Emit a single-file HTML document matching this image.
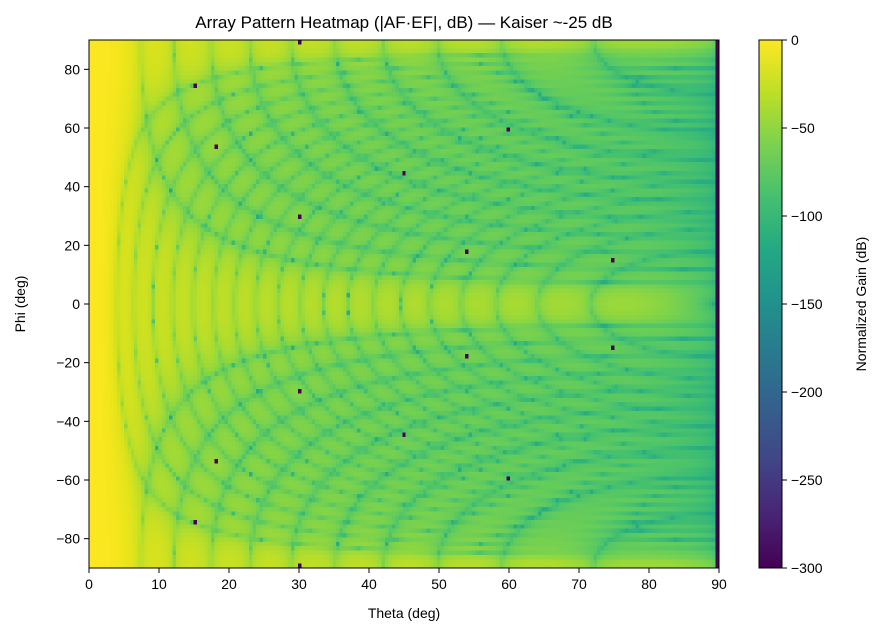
<!DOCTYPE html>
<html><head><meta charset="utf-8"><style>
body{margin:0;background:#fff;width:885px;height:637px;overflow:hidden;font-family:"Liberation Sans","DejaVu Sans",sans-serif;}
#wrap{position:relative;width:885px;height:637px;}
canvas#hm{position:absolute;left:89px;top:40px;width:630px;height:528px;image-rendering:pixelated;}
</style></head><body><div id="wrap">
<canvas id="hm" width="181" height="121"></canvas>
<svg width="885" height="637" style="position:absolute;left:0;top:0">
<defs><linearGradient id="vg" x1="0" y1="1" x2="0" y2="0">
<stop offset="0" stop-color="#440154"/><stop offset="0.1" stop-color="#482475"/><stop offset="0.2" stop-color="#414487"/><stop offset="0.3" stop-color="#355f8d"/><stop offset="0.4" stop-color="#2a788e"/><stop offset="0.5" stop-color="#21918c"/><stop offset="0.6" stop-color="#22a884"/><stop offset="0.7" stop-color="#44bf70"/><stop offset="0.8" stop-color="#7ad151"/><stop offset="0.9" stop-color="#bddf26"/><stop offset="1" stop-color="#fde725"/></linearGradient></defs>
<rect x="89" y="40" width="630" height="528" fill="none" stroke="#000" stroke-width="1"/>
<rect x="759" y="40" width="23" height="528" fill="url(#vg)" stroke="#000" stroke-width="1"/>
<g stroke="#000" stroke-width="1" id="ticks"></g>
<g font-size="14" font-family="Liberation Sans, DejaVu Sans, sans-serif" id="labels"></g>
<text x="404" y="28" font-size="17" text-anchor="middle" font-family="Liberation Sans, DejaVu Sans, sans-serif">Array Pattern Heatmap (|AF·EF|, dB) — Kaiser ~-25 dB</text>
<text x="404" y="618" font-size="14" text-anchor="middle" font-family="Liberation Sans, DejaVu Sans, sans-serif">Theta (deg)</text>
<text x="25" y="304" font-size="14" text-anchor="middle" transform="rotate(-90 25 304)" font-family="Liberation Sans, DejaVu Sans, sans-serif">Phi (deg)</text>
<text x="866" y="304" font-size="14" text-anchor="middle" transform="rotate(-90 866 304)" font-family="Liberation Sans, DejaVu Sans, sans-serif">Normalized Gain (dB)</text>
</svg>
<script>
(function(){
var NS="http://www.w3.org/2000/svg",tk=document.getElementById('ticks'),lb=document.getElementById('labels');
function line(x1,y1,x2,y2){var l=document.createElementNS(NS,'line');l.setAttribute('x1',x1);l.setAttribute('y1',y1);l.setAttribute('x2',x2);l.setAttribute('y2',y2);tk.appendChild(l);}
function txt(x,y,s,a){var t=document.createElementNS(NS,'text');t.setAttribute('x',x);t.setAttribute('y',y);t.setAttribute('text-anchor',a);t.textContent=s;lb.appendChild(t);}
for(var th=0;th<=90;th+=10){var x=89+7*th;line(x,568,x,573);txt(x,589,th,'middle');}
for(var p=-80;p<=80;p+=20){var y=304-p*528/180;line(84,y,89,y);txt(80,y+5,(p<0?'\u2212'+(-p):p),'end');}
for(var d=0;d>=-300;d-=50){var y=40+(-d)/300*528;line(782,y,787,y);txt(791,y+5,(d<0?'\u2212'+(-d):d),'start');}
function I0(x){var s=1,t=1;for(var k=1;k<40;k++){t*=(x/(2*k))*(x/(2*k));s+=t;}return s;}
function kaiser(N,b){var w=[];for(var n=0;n<N;n++){var r=2*n/(N-1)-1;w.push(I0(b*Math.sqrt(1-r*r))/I0(b));}return w;}
function af(w,u,d){var N=w.length,re=0,s=0;for(var n=0;n<N;n++){var m=n-(N-1)/2;re+=w[n]*Math.cos(2*Math.PI*d*m*u);s+=w[n];}return Math.abs(re)/s;}
var wx=kaiser(40,2.5),wy=kaiser(21,2.5);
var c0=[0.2777273272234177,0.005407344544966578,0.3340998053353061],c1=[0.1050930431085774,1.404613529898575,1.384590162594685],c2=[-0.3308618287255563,0.214847559468213,0.09509516302823659],c3=[-4.634230498983486,-5.799100973351585,-19.33244095627987],c4=[6.228269936347081,14.17993336680509,56.69055260068105],c5=[4.776384997670288,-13.74514537774601,-65.35303263337234],c6=[-5.435455855934631,4.645852612178535,26.3124352495832];
function vir(t){var o=[];for(var i=0;i<3;i++){var v=c0[i]+t*(c1[i]+t*(c2[i]+t*(c3[i]+t*(c4[i]+t*(c5[i]+t*c6[i])))));o.push(Math.max(0,Math.min(255,Math.round(v*255))));}return o;}
var cv=document.getElementById('hm'),ctx=cv.getContext('2d'),img=ctx.createImageData(181,121);
var dark={};[[30,90],[15,75],[18,54],[30,30],[45,45],[54,18],[60,60],[75,15]].forEach(function(a){dark[a[0]+','+a[1]]=1;dark[a[0]+','+(-a[1])]=1;});
for(var j=0;j<121;j++){var ph=90-j*1.5;var pr=ph*Math.PI/180;
 for(var i=0;i<181;i++){var th=i*0.5;var tr=th*Math.PI/180;
  var u=Math.sin(tr)*Math.cos(pr),v=Math.sin(tr)*Math.sin(pr);
  var g=af(wx,u,0.5)*af(wy,v,0.5)*Math.cos(tr);
  var db=20*Math.log10(Math.max(g,1e-15))*0.85;
  if(db<-115)db=-115;
  if(i==180||dark[th+','+ph])db=-300;
  var c=vir((db+300)/300),k=(j*181+i)*4;
  img.data[k]=c[0];img.data[k+1]=c[1];img.data[k+2]=c[2];img.data[k+3]=255;}}
ctx.putImageData(img,0,0);
})();
</script>
</div></body></html>
